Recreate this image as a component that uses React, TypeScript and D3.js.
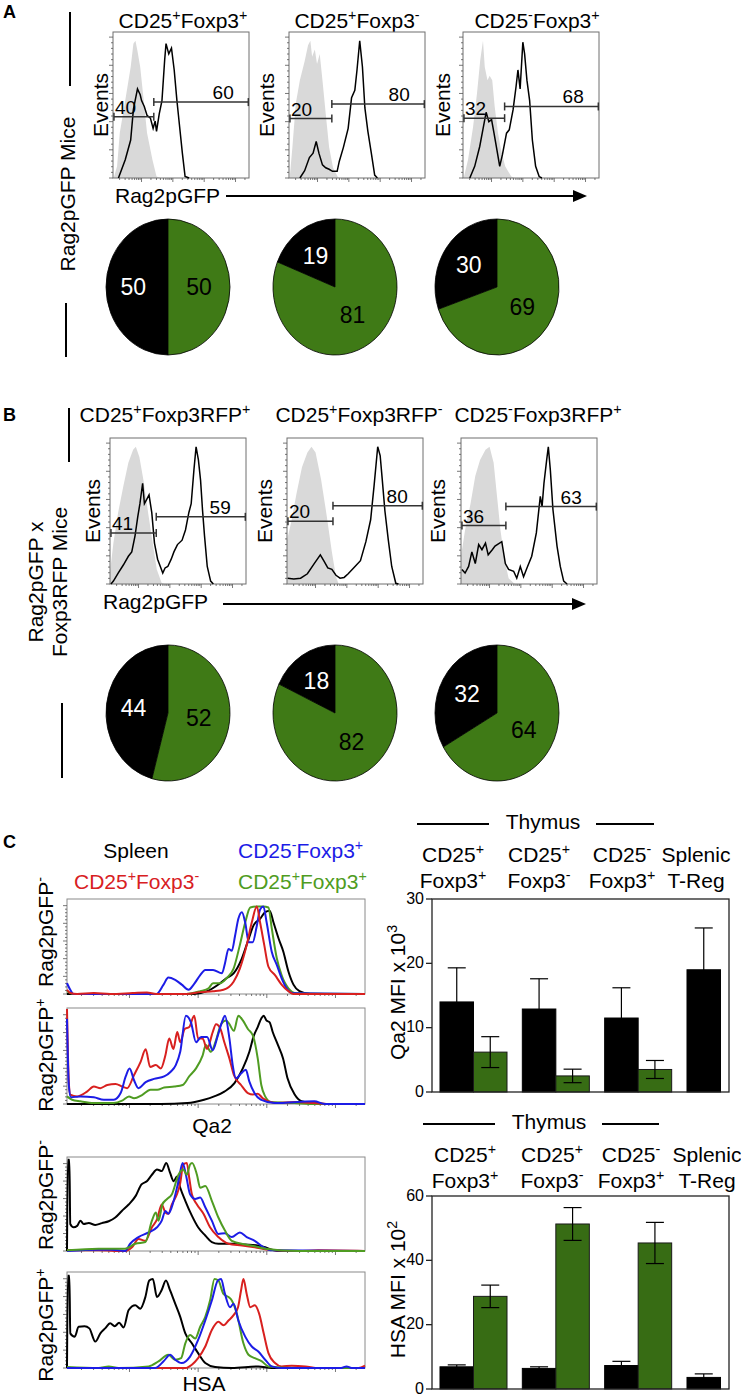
import React from 'react';
import * as d3 from 'd3';

const FONT = "'Liberation Sans', Arial, sans-serif";
const FS = 21;

// ---- panel A / B : populations, gates, pies ----
const aTitles = ['CD25^+Foxp3^+', 'CD25^+Foxp3^-', 'CD25^-Foxp3^+'];
const bTitles = ['CD25^+Foxp3RFP^+', 'CD25^+Foxp3RFP^-', 'CD25^-Foxp3RFP^+'];

const aGates = [[40, 60], [20, 80], [32, 68]];
const bGates = [[41, 59], [20, 80], [36, 63]];
const aGateSplit = [30, 31.5, 30.6];
const bGateSplit = [34, 33.8, 33];
const aGateLevels = [[42, 52], [40.7, 50.6], [41, 49]];
const bGateLevels = [[35, 46], [43, 53.6], [40, 53]];

const aPies = [[50, 50], [19, 81], [30, 69]];
const bPies = [[44, 52], [18, 82], [32, 64]];

// histogram traces, [x % of axis, y % of max]
const aBlack1 = [[4,0],[9,12.5],[13,26],[15,47],[18,61],[20,57],[21,53],[23,49],[25,43],[27.5,41],[29.5,34],[31,39],[32,32],[34,44],[36,53],[38,81],[39,92],[41,85],[43,89],[45,74],[47,53],[48,44],[51,17],[53,1],[56,0]];
const aGray1 = [[0.5,0],[3,8],[5,31],[9,53],[13,76],[15,92],[16.5,94],[18,87],[20,76],[22.6,53],[25,31],[29,12.5],[32,1],[35,0]];
const aBlack2 = [[8,0],[11.5,5],[15,14],[17.7,17],[20,25],[22,17],[24.6,9],[27,7],[29.5,6],[32,4.6],[35.4,4.6],[37,11.5],[40,21],[43.5,34],[46,55],[48.4,60],[50,74],[52,94],[54,76],[55.8,48],[58,32],[60.7,16],[63,2],[65,0]];
const aGray2 = [[0.5,0],[2.5,21],[5,51],[8,67],[11.5,80],[14,91],[15.7,94],[17,83],[19,88],[20.6,78],[22.6,85],[24.6,67],[27,44],[29.5,21],[32.4,7],[36,0.5],[38,0]];
const aBlack3 = [[5,0],[8.6,8],[12.3,21.6],[15,35],[17,45],[19,38.6],[21,40],[22.8,30.7],[25,19],[27,8],[29,16],[32,30.7],[34,33],[36.8,46.6],[39,62.5],[40.4,74],[42,61],[44,93],[45.3,85],[47,67],[49,53],[51,26],[53.4,8],[56,1],[58,0]];
const aGray3 = [[0.5,0],[3.7,12.5],[7.4,35],[10.3,58],[12.7,81],[14.7,94],[16,76],[18,67],[19.6,70],[21.5,67],[23.3,49],[25.7,31],[28,19],[31,8],[35.5,1],[38,0]];

const bBlack1 = [[0.7,0],[2.5,2],[6,7.5],[9.8,13],[13.5,19],[16,22],[18.4,33],[20.4,46],[22,55],[24,69],[25.3,55],[27,58],[28.7,61],[30.7,49],[32.7,28],[35,17],[37,12],[38.8,7.5],[40.5,11],[42.5,12],[45,17],[47,22],[49.6,27],[53,30],[55.5,37],[58,49],[59.7,55],[61.7,78],[63.3,94],[65,85],[66.6,71],[68,51],[69.5,33],[71.5,12],[74,2],[76,0]];
const bGray1 = [[0,8],[2.5,28],[6,49],[9.8,67],[13.5,83],[17,92],[19,94],[21.6,87],[24.6,71],[28,49],[31.4,28],[34.4,10],[38,0.7],[40,0]];
const bBlack2 = [[0.5,4],[5,3.5],[10,4],[15,7],[20,14],[24.5,20],[27,16],[30,11],[33,10],[36,6],[39,4],[42,4.5],[45,7],[50,12],[54,16],[58,29],[61.5,44],[64,67],[66.7,94],[68.5,88],[70,72],[72,50],[74.5,30],[77,12],[80,0.5],[82,0]];
const bGray2 = [[0,30],[3,42],[7,62],[11,80],[15,90],[18,94],[21,90],[25,72],[29,48],[33,22],[36,5],[38,0]];
const bBlack3 = [[0.7,10],[3,7.5],[5.6,12],[8,22],[10.5,14],[13,27],[15.4,23.5],[18,28],[20,20],[23,23.5],[25,26],[30,29],[32.6,14],[35,10],[38.7,8.7],[41,4],[43.6,12],[46,5],[48.5,11],[52,19],[55.4,35],[58.3,60],[59.6,53],[61,69],[63,85],[64.2,94],[65.7,78],[67.6,51],[70.6,26],[73,12],[75.5,2],[78,0]];
const bGray3 = [[0,19],[3,37],[7,55],[10.5,74],[14,85],[18,92],[21,94],[24,83],[26.5,60],[29,37],[32,17],[35,4],[38.7,0.7],[40,0]];

// ---- panel C : overlaid histograms ----
const qa2NegBlack = [[0,0],[42.5,0],[47,3],[51.4,11.5],[53.6,17],[55.9,22],[58.7,38],[61,59],[62.6,73],[64.8,80],[66.5,87],[68,88.5],[69.3,76],[71,59],[72.6,45],[74.3,24],[76,10],[78,3],[81.6,0],[100,0]];
const qa2NegRed = [[0,4.5],[1.1,1],[3.4,0],[9,1],[14.5,0],[22,1],[26.8,1.7],[30,0],[40,0],[44.7,2],[49,3],[52.5,4.5],[55.9,13],[58,27],[60.3,52],[62,76],[63.7,93],[64.8,76],[66.2,52],[67.6,29],[69.8,20],[72,10],[74.3,3],[76,0],[100,0]];
const qa2NegBlue = [[0,11.5],[1.1,4.5],[2.2,0],[30,0],[32.4,10],[34,17.5],[36.3,15],[38.5,10],[40.8,4.5],[42.5,10],[44.7,20],[46.4,25.5],[49,25.5],[52,22],[53,32.5],[54.2,48],[55.3,46],[56.4,62],[57.5,80],[58.7,87],[59.8,76],[61,55],[62.3,55],[63.7,72.7],[64.8,90],[65.9,93],[67,76],[68.7,45],[70.4,31],[72,17],[73.7,6],[76,0.7],[100,0]];
const qa2NegGreen = [[0,3],[2.2,0],[40,0],[44.7,3],[47.5,6],[49,11.5],[51.4,11.5],[53.6,17],[55.9,27],[58,52],[59.8,76],[61.5,92],[63.7,93],[65.9,93],[67.6,92],[68.7,70],[70.4,38],[72,20],[74.3,6],[77,0.7],[100,0]];

const qa2PosBlack = [[0,0],[31.5,0],[40.4,1],[46,4.5],[49.4,8],[52.8,13],[56.2,22],[59,37.5],[61.2,55],[62.7,72],[64,81],[65.2,90],[66,93],[66.9,88],[68,86],[69,76],[70.8,62],[72.5,48],[74,27],[76.4,10],[78.7,3],[83,1],[87.6,0],[100,0]];
const qa2PosRed = [[0,100],[0.6,23.6],[1.1,10],[3.4,8],[6.7,13],[9,18.4],[11.2,16.7],[13.5,20],[16.3,21],[18.5,18.4],[20.2,16.7],[22.5,30.5],[24.7,44.4],[26.4,57.6],[27.9,39],[29.8,41],[31.5,37.5],[33,51],[34.3,69],[35.7,58],[37,75.7],[38,65],[39.5,79],[41,81],[42.7,93],[44,69],[45.5,69],[47,58],[48.9,75.7],[50,84],[51.5,79],[52.8,65],[54.5,48],[56,30.5],[58.4,20],[60.7,11.5],[62.4,10],[64,10.8],[65.7,6],[67.4,3],[70.8,1],[76.4,2],[83,1],[88.8,0],[100,0]];
const qa2PosBlue = [[0,89.6],[0.6,20],[1.3,7],[4.5,8],[9,7],[12.4,4.5],[15.7,4.5],[18,11.5],[19.7,29],[21,37.5],[22.5,25],[24,16.7],[26.4,23],[29.2,26.4],[32.6,29],[34.8,34],[36.5,41],[38,55],[39.9,93],[41.6,86],[43.3,65],[45,70.5],[47,70.5],[48.9,56.6],[50.6,72],[52.2,88],[53,93],[54.5,69],[55.6,41],[56.7,27],[58.4,32],[60,36],[61.2,23.6],[62.9,11.5],[65,4.5],[69.6,1],[83,2.8],[86.5,0],[100,0]];
const qa2PosGreen = [[0,8],[1.7,4.5],[4.5,2.8],[9,1],[15.7,1],[18.5,3.5],[20.8,8],[22.5,6],[25.3,9.7],[28,15],[30.3,15],[32.6,17.4],[36,18.4],[38.8,20],[41,29],[43.3,37.5],[45.5,51],[46.6,62],[48.3,55],[50,67],[51.7,84],[53.4,88],[54.5,84],[56,77],[57.5,93],[59,88],[60.7,79],[62.4,72],[64,48],[65.2,20],[66.5,8],[68.5,2],[76.4,1],[83,0],[100,0]];

const hsaNegBlack = [[0,0],[0.3,98],[0.8,98],[1.1,29],[2.2,25.5],[3.4,27],[4.5,32.6],[5.6,29],[7.3,30],[9.5,28],[11.7,30],[14,32],[16.2,36],[18.4,43],[20.7,50],[23,59],[25,71.6],[26.8,75],[28.5,82],[30.2,87.6],[31.8,86],[33.3,94.7],[34.6,84],[35.8,75],[36.9,80],[38,68],[39.7,54],[41.9,38],[44,25.5],[46.4,16.7],[48.6,9.6],[50.8,7.8],[55.3,7.8],[59.8,7],[64,6],[66.5,4],[68.7,1.4],[72,0],[100,0]];
const hsaNegRed = [[0,0.7],[10.6,0.7],[19.5,0],[21.8,4],[24,13],[26.3,11],[28.5,25.5],[30.2,34],[31.8,50],[33,41.5],[34,40],[35.2,50],[36.9,61],[38,73],[39,93],[40.2,94.7],[41,79],[41.9,61],[43.6,50],[45.8,40],[48,25.5],[50.8,15],[54.2,7.8],[58.7,6],[63,4],[67.6,1.4],[77.7,0],[84.4,0.7],[100,0]];
const hsaNegBlue = [[0,0],[10.6,1.4],[15,1.4],[19.5,0],[21.2,7.8],[24,15],[27.4,20],[30.2,25.5],[31.8,32.6],[33,43],[34,40],[35.8,54],[37.4,75],[38.8,94.7],[39.9,82],[41.3,61],[43,56],[44.7,57.5],[46.4,47],[48.6,32.6],[50.8,18.4],[53,19],[55.3,15],[58,20],[60.3,15],[63,11],[66,4],[68.7,0.7],[100,0]];
const hsaNegGreen = [[0,0.7],[10.6,2.5],[19.5,2.5],[22.9,7.8],[26.3,9.6],[28.5,32.6],[29.8,41.5],[30.7,32.6],[32,50],[33.5,55.7],[35.2,61],[37.4,82],[39,87.6],[40.2,82],[41.3,93],[42,94.7],[43.6,82],[44.7,68],[46.4,70],[48.6,54],[50.8,36],[53,22],[55.3,11],[59.8,7],[63,5],[66.5,2.5],[77.7,0],[100,0]];

const hsaPosBlack = [[0,0],[0.3,97],[0.8,97],[1.1,36.5],[2.6,33],[3.9,43.4],[5.9,44],[7.5,41.7],[9.5,27.8],[11.2,36.5],[12.8,41.7],[14.5,47],[16,44],[17.5,47.6],[19,42.7],[20.7,61],[22.9,66],[24.6,62.5],[26.3,74.7],[27.6,92],[28.8,93.7],[30.2,74.7],[31.7,81.6],[33.2,92],[34.6,81.6],[36.3,67.7],[38,53.8],[39.7,36.5],[41.9,26],[44,15.6],[46.4,5.2],[49.7,1],[55.3,0],[64.2,1.7],[68.7,0],[100,0]];
const hsaPosRed = [[0,0],[39.7,0],[41.9,3.5],[44,10.4],[46.4,22.6],[48.6,40],[50.8,48.6],[52.5,45],[54.2,50],[55.9,55.6],[57.4,64],[58.4,81.6],[59.2,93.7],[60.3,78],[61.5,64],[63,66],[64.5,57],[66,36.5],[67.6,15.6],[69.8,5.2],[72,1.7],[75.4,2.4],[80,1.7],[84.4,0],[97.8,0],[100,2.4]];
const hsaPosBlue = [[0,0],[29.6,0],[32.4,7],[34.6,14],[36.3,8.7],[38.5,5.2],[41.3,12],[44,29.5],[46.4,50],[48.6,71],[50.6,92],[51.7,93.7],[53,78],[54.7,64],[55.9,67.7],[57.5,50],[59.8,33],[62,22.6],[64.2,17.4],[66.5,8.7],[68.7,1.7],[72,0],[92,0],[93.8,1.7],[95.5,0],[100,0]];
const hsaPosGreen = [[0,1],[10.6,0],[14,1.7],[17.3,0],[27.4,1.7],[30.7,7],[34,14],[36.3,8.7],[38.3,10.4],[39.7,26],[41.3,34.7],[43,31],[44.7,43.4],[46.4,53.8],[48,71],[49.5,93.7],[50.8,92],[52.5,78],[54.2,74.7],[55.3,71],[57,57],[59.2,26],[60.9,14],[63,10.4],[65.4,7],[67.6,1.7],[77.7,0],[100,0]];

// ---- bar charts ----
const barCats = [['CD25^+', 'Foxp3^+'], ['CD25^+', 'Foxp3^-'], ['CD25^-', 'Foxp3^+'], ['Splenic', 'T-Reg']];
const qa2Black = [14, 12.9, 11.5, 19.0];
const qa2BlackErr = [5.3, 4.7, 4.7, 6.5];
const qa2Green = [6.2, 2.5, 3.5, null];
const qa2GreenErr = [2.4, 1.05, 1.4, null];
const hsaBlack = [6.9, 6.4, 7.3, 3.6];
const hsaBlackErr = [0.6, 0.5, 1.3, 1.1];
const hsaGreen = [28.8, 51.3, 45.4, null];
const hsaGreenErr = [3.5, 5.1, 6.4, null];

const RED = '#d8201f';
const BLUE = '#1c1ce6';
const LGREEN = '#4f9c22';
const PIE_GREEN = '#3f7a16';
const BAR_GREEN = '#376c14';

function Rich({ text, size }) {
  const parts = text.split(/(\^.)/).filter(Boolean);
  let up = false;
  return parts.map((p, i) => {
    if (p[0] === '^') {
      const dy = up ? 0 : -size * 0.38;
      up = true;
      return <tspan key={i} dy={dy} fontSize={size * 0.68}>{p[1]}</tspan>;
    }
    const dy = up ? size * 0.38 : 0;
    up = false;
    return <tspan key={i} dy={dy}>{p}</tspan>;
  });
}

function T({ x, y, text, size = FS, anchor = 'start', fill = '#000', rotate = false, weight = 'normal' }) {
  return (
    <text
      x={rotate ? 0 : x}
      y={rotate ? 0 : y}
      transform={rotate ? `translate(${x},${y}) rotate(-90)` : undefined}
      textAnchor={anchor}
      fontSize={size}
      fontFamily={FONT}
      fontWeight={weight}
      fill={fill}
    >
      <Rich text={text} size={size} />
    </text>
  );
}

// log-ish fluorescence axis used for tick marks on the flow plots
const fluor = d3.scaleLog().domain([Math.pow(10, 1.09), Math.pow(10, 5.43)]);
const fluorTicks = d3.range(1, 6).flatMap(d => d3.range(1, 10).map(m => ({ v: m * Math.pow(10, d), major: m === 1 })))
  .filter(t => t.v >= fluor.domain()[0] && t.v <= fluor.domain()[1]);

function FrameTicks({ left, top, w, h, topFrac }) {
  const fx = fluor.copy().range([left, left + w]);
  const yt = d3.scaleLinear().domain([0, 25]).range([top + h, top + h * (1 - topFrac)]);
  return (
    <g stroke="#555" strokeWidth={0.8}>
      {d3.range(0, 26).map(i => (
        <line key={'y' + i} x1={left - (i % 5 === 0 ? 4 : 2)} x2={left} y1={yt(i)} y2={yt(i)} />
      ))}
      {fluorTicks.map((t, i) => (
        <line key={'x' + i} x1={fx(t.v)} x2={fx(t.v)} y1={top + h} y2={top + h + (t.major ? 4 : 2)} />
      ))}
    </g>
  );
}

function GateHist({ left, top, w, h, black, gray, gate, split, levels, eventsGap }) {
  const x = d3.scaleLinear().domain([0, 100]).range([left, left + w]);
  const y = d3.scaleLinear().domain([0, 100]).range([top + h, top]);
  const area = d3.area().x(d => x(d[0])).y0(top + h).y1(d => y(d[1]));
  const line = d3.line().x(d => x(d[0])).y(d => y(d[1]));
  const gy0 = y(levels[0]);
  const gy1 = y(levels[1]);
  const gate1 = [x(0.7), x(split)];
  const gate2 = [x(split), x(99.5)];
  return (
    <g>
      <path d={area(gray)} fill="#d9d9d9" />
      <rect x={left} y={top} width={w} height={h} fill="none" stroke="#6f6f6f" strokeWidth={1} />
      <FrameTicks left={left} top={top} w={w} h={h} topFrac={0.965} />
      <path d={line(black)} fill="none" stroke="#000" strokeWidth={1.5} />
      <g stroke="#333" strokeWidth={1.5}>
        <line x1={gate1[0]} x2={gate1[1]} y1={gy0} y2={gy0} />
        <line x1={gate1[0]} x2={gate1[0]} y1={gy0 - 4} y2={gy0 + 4} />
        <line x1={gate1[1]} x2={gate1[1]} y1={gy0 - 4} y2={gy0 + 4} />
        <line x1={gate2[0]} x2={gate2[1]} y1={gy1} y2={gy1} />
        <line x1={gate2[0]} x2={gate2[0]} y1={gy1 - 4} y2={gy1 + 4} />
        <line x1={gate2[1]} x2={gate2[1]} y1={gy1 - 4} y2={gy1 + 4} />
      </g>
      <T x={x(1.5)} y={gy0 - 3} text={String(gate[0])} size={19} />
      <T x={x(81)} y={gy1 - 3} text={String(gate[1])} size={19} anchor="middle" />
      <T x={left - eventsGap} y={top + h / 2} text="Events" anchor="middle" rotate />
    </g>
  );
}

function Pie({ cx, cy, values }) {
  const [b, g] = values;
  const rx = 62;
  const ry = 68;
  const sy = ry / rx;
  const start = -2 * Math.PI * b / (b + g);
  const arcs = d3.pie().sort(null).startAngle(start).endAngle(start + 2 * Math.PI)(values);
  const arc = d3.arc().innerRadius(0).outerRadius(rx);
  const labelR = [rx * 0.56, rx * 0.5];
  return (
    <g>
      <g transform={`translate(${cx},${cy}) scale(1,${sy})`}>
        {arcs.map((a, i) => (
          <path key={i} d={arc(a)} fill={i === 0 ? '#000' : PIE_GREEN} stroke="#000" strokeWidth={0.8} vectorEffect="non-scaling-stroke" />
        ))}
      </g>
      {arcs.map((a, i) => {
        const c = d3.arc().innerRadius(labelR[i]).outerRadius(labelR[i]).centroid(a);
        return (
          <text key={i} x={cx + c[0]} y={cy + c[1] * sy} dy="0.36em" textAnchor="middle" fontSize={23} fontFamily={FONT} fill={i === 0 ? '#fff' : '#000'}>
            {values[i]}
          </text>
        );
      })}
    </g>
  );
}

function FlowBox({ top, h, curves, label, labelY }) {
  const left = 67;
  const w = 298;
  const x = d3.scaleLinear().domain([0, 100]).range([left, left + w]);
  const y = d3.scaleLinear().domain([0, 100]).range([top + h, top + 1]);
  const line = d3.line().x(d => x(d[0])).y(d => y(d[1])).curve(d3.curveMonotoneX);
  return (
    <g>
      <rect x={left} y={top} width={w} height={h} fill="none" stroke="#8a8a8a" strokeWidth={1} />
      <FrameTicks left={left} top={top} w={w} h={h} topFrac={0.93} />
      {curves.map(([data, color], i) => (
        <path key={i} d={line(data)} fill="none" stroke={color} strokeWidth={2} strokeLinejoin="round" />
      ))}
      <T x={53} y={labelY} text={label} anchor="middle" rotate />
    </g>
  );
}

function BarChart({ top, bottom, max, ticks, black, blackErr, green, greenErr, yLabel, headY, headX, headLines, labelY, labelX }) {
  const left = 432;
  const right = 729;
  const y = d3.scaleLinear().domain([0, max]).range([bottom, top]);
  const gx = d3.scaleBand().domain(d3.range(4)).range([left, 762]).paddingInner(0.186).paddingOuter(0.097);
  const sx = d3.scaleBand().domain(['black', 'green']).range([0, gx.bandwidth()]);
  const cap = 9;
  const errBar = (cxp, v, e, key) => (
    <g key={key} stroke="#000" strokeWidth={1.2}>
      <line x1={cxp} x2={cxp} y1={y(v - e)} y2={y(v + e)} />
      <line x1={cxp - cap} x2={cxp + cap} y1={y(v + e)} y2={y(v + e)} />
      <line x1={cxp - cap} x2={cxp + cap} y1={y(v - e)} y2={y(v - e)} />
    </g>
  );
  return (
    <g>
      <g stroke="#000" strokeWidth={1.8}>
        <line x1={headLines[0][0]} x2={headLines[0][1]} y1={headY - 5} y2={headY - 5} />
        <line x1={headLines[1][0]} x2={headLines[1][1]} y1={headY - 5} y2={headY - 5} />
      </g>
      <T x={headX} y={headY} text="Thymus" anchor="middle" />
      {barCats.map((c, i) => (
        <g key={i}>
          <T x={labelX[i]} y={labelY} text={c[0]} anchor="middle" />
          <T x={labelX[i]} y={labelY + 26} text={c[1]} anchor="middle" />
        </g>
      ))}
      {black.map((v, i) => {
        const bx = gx(i) + sx('black');
        const gxp = gx(i) + sx('green');
        return (
          <g key={i}>
            {errBar(bx + sx.bandwidth() / 2, v, blackErr[i], 'be')}
            <rect x={bx} y={y(v)} width={sx.bandwidth()} height={bottom - y(v)} fill="#000" stroke="#000" strokeWidth={1} />
            {green[i] != null && (
              <g>
                <rect x={gxp} y={y(green[i])} width={sx.bandwidth()} height={bottom - y(green[i])} fill={BAR_GREEN} stroke="#1a1a1a" strokeWidth={1} />
                {errBar(gxp + sx.bandwidth() / 2, green[i], greenErr[i], 'ge')}
              </g>
            )}
          </g>
        );
      })}
      <rect x={left} y={top} width={right - left} height={bottom - top} fill="none" stroke="#222" strokeWidth={1.3} />
      {ticks.map(t => (
        <g key={t}>
          <line x1={left - 6} x2={left} y1={y(t)} y2={y(t)} stroke="#222" strokeWidth={1.3} />
          <text x={left - 8} y={y(t)} dy="0.3em" textAnchor="end" fontSize={16} fontFamily={FONT}>{t}</text>
        </g>
      ))}
      <T x={405} y={(top + bottom) / 2 - 3} text={yLabel} anchor="middle" rotate />
    </g>
  );
}

function Arrow({ x1, x2, y }) {
  return (
    <g>
      <line x1={x1} x2={x2 - 12} y1={y} y2={y} stroke="#000" strokeWidth={2} />
      <path d={`M${x2 - 14},${y - 6}L${x2},${y}L${x2 - 14},${y + 6}Z`} fill="#000" />
    </g>
  );
}

export default function App() {
  const aLefts = [113, 289, 463];
  const bLefts = [110, 287, 461];
  const aBlack = [aBlack1, aBlack2, aBlack3];
  const aGray = [aGray1, aGray2, aGray3];
  const bBlack = [bBlack1, bBlack2, bBlack3];
  const bGray = [bGray1, bGray2, bGray3];
  const aTitleX = [183, 357, 537];
  const bTitleX = [165, 359, 538];
  const pieX = [168, 335, 497];
  return (
    <svg width={741} height={1396} style={{ position: 'absolute', left: 0, top: 0, background: '#fff' }}>
      {/* panel A */}
      <T x={3} y={18} text="A" size={18} weight="bold" />
      <line x1={70} x2={70} y1={12} y2={86} stroke="#000" strokeWidth={2} />
      <line x1={66} x2={66} y1={303} y2={357} stroke="#000" strokeWidth={2} />
      <T x={75} y={194} text="Rag2pGFP Mice" anchor="middle" rotate />
      {aTitles.map((t, i) => <T key={i} x={aTitleX[i]} y={28} text={t} anchor="middle" />)}
      {aLefts.map((l, i) => (
        <GateHist key={i} left={l} top={32} w={136} h={146} black={aBlack[i]} gray={aGray[i]}
          gate={aGates[i]} split={aGateSplit[i]} levels={aGateLevels[i]} eventsGap={[5, 15, 13][i]} />
      ))}
      <T x={115} y={203} text="Rag2pGFP" />
      <Arrow x1={226} x2={587} y={196} />
      {aPies.map((p, i) => <Pie key={i} cx={pieX[i]} cy={287} values={p} />)}

      {/* panel B */}
      <T x={3} y={421} text="B" size={18} weight="bold" />
      <line x1={69} x2={69} y1={408} y2={462} stroke="#000" strokeWidth={2} />
      <line x1={62} x2={62} y1={703} y2={778} stroke="#000" strokeWidth={2} />
      <T x={43} y={582} text="Rag2pGFP x" anchor="middle" rotate />
      <T x={67} y={582} text="Foxp3RFP Mice" anchor="middle" rotate />
      {bTitles.map((t, i) => <T key={i} x={bTitleX[i]} y={422} text={t} anchor="middle" />)}
      {bLefts.map((l, i) => (
        <GateHist key={i} left={l} top={438} w={136} h={146} black={bBlack[i]} gray={bGray[i]}
          gate={bGates[i]} split={bGateSplit[i]} levels={bGateLevels[i]} eventsGap={[10, 15, 16][i]} />
      ))}
      <T x={103} y={609} text="Rag2pGFP" />
      <Arrow x1={223} x2={586} y={604} />
      {bPies.map((p, i) => <Pie key={i} cx={pieX[i]} cy={713} values={p} />)}

      {/* panel C */}
      <T x={3} y={848} text="C" size={18} weight="bold" />
      <T x={136} y={858} text="Spleen" anchor="middle" />
      <T x={238} y={858} text="CD25^-Foxp3^+" fill={BLUE} />
      <T x={74} y={889} text="CD25^+Foxp3^-" fill={RED} />
      <T x={238} y={889} text="CD25^+Foxp3^+" fill={LGREEN} />
      <FlowBox top={899} h={95} label="Rag2pGFP^-" labelY={932}
        curves={[[qa2NegBlack, '#000'], [qa2NegGreen, LGREEN], [qa2NegBlue, BLUE], [qa2NegRed, RED]]} />
      <FlowBox top={1008} h={96} label="Rag2pGFP^+" labelY={1055}
        curves={[[qa2PosBlack, '#000'], [qa2PosGreen, LGREEN], [qa2PosRed, RED], [qa2PosBlue, BLUE]]} />
      <T x={212} y={1133} text="Qa2" anchor="middle" />
      <FlowBox top={1157} h={94} label="Rag2pGFP^-" labelY={1195}
        curves={[[hsaNegBlack, '#000'], [hsaNegRed, RED], [hsaNegBlue, BLUE], [hsaNegGreen, LGREEN]]} />
      <FlowBox top={1272} h={96} label="Rag2pGFP^+" labelY={1325}
        curves={[[hsaPosBlack, '#000'], [hsaPosRed, RED], [hsaPosGreen, LGREEN], [hsaPosBlue, BLUE]]} />
      <T x={204} y={1391} text="HSA" anchor="middle" />

      <BarChart top={899} bottom={1092} max={30} ticks={[0, 10, 20, 30]}
        black={qa2Black} blackErr={qa2BlackErr} green={qa2Green} greenErr={qa2GreenErr}
        yLabel="Qa2 MFI x 10^3" headY={829} headX={543} headLines={[[417, 489], [596, 654]]}
        labelY={862} labelX={[453, 539, 622, 696]} />
      <BarChart top={1196} bottom={1389} max={60} ticks={[0, 20, 40, 60]}
        black={hsaBlack} blackErr={hsaBlackErr} green={hsaGreen} greenErr={hsaGreenErr}
        yLabel="HSA MFI x 10^2" headY={1129} headX={549} headLines={[[423, 495], [602, 659]]}
        labelY={1162} labelX={[465, 552, 631, 707]} />
    </svg>
  );
}
